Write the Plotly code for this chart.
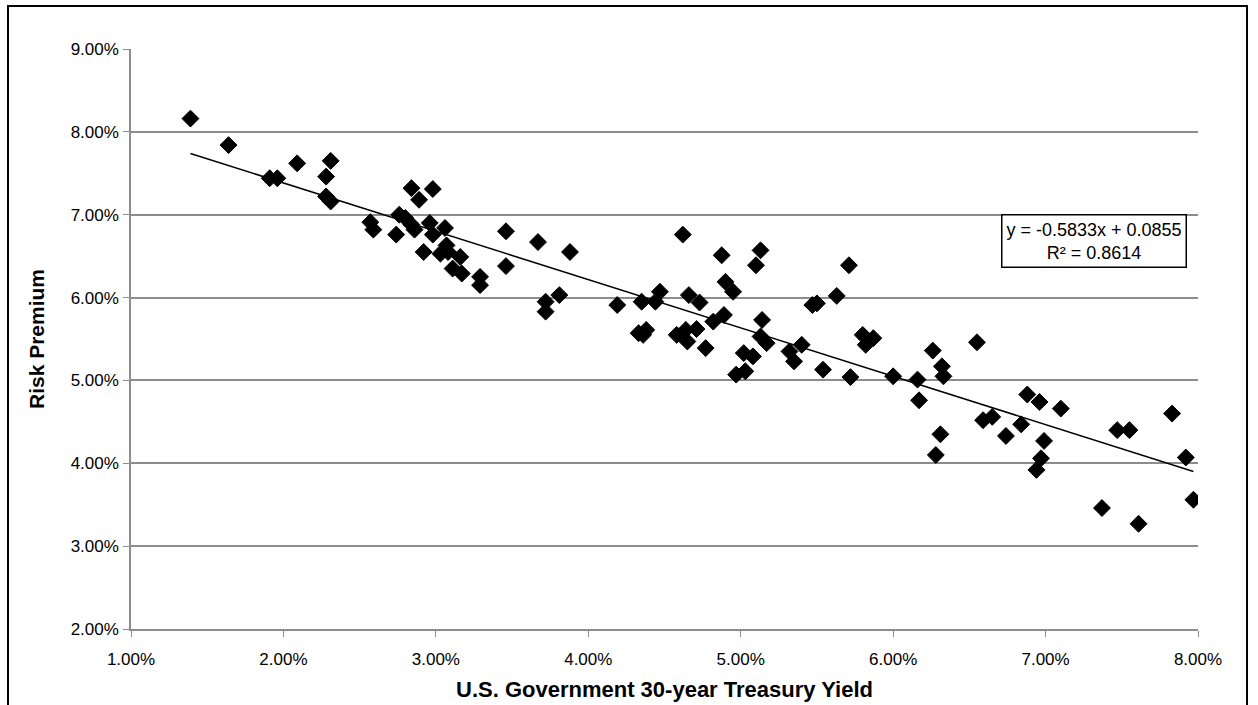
import plotly.graph_objects as go

# Data (percent values)
treasury_yield = [1.39, 1.64, 1.91, 1.96, 2.09, 2.31, 2.28, 2.28, 2.31, 2.57, 2.59, 2.74,
                  2.84, 2.98, 2.89, 2.76, 2.80, 2.84, 2.86, 2.96, 3.06, 2.98, 2.92, 3.03,
                  3.07, 3.08, 3.16, 3.11, 3.17, 3.29, 3.29, 3.46, 3.46, 3.67, 3.88, 3.72,
                  3.81, 3.72, 4.19, 4.35, 4.47, 4.44, 4.36, 4.38, 4.33, 4.58, 4.62, 4.875,
                  5.13, 5.10, 5.71, 4.66, 4.73, 4.90, 4.95, 5.47, 5.50, 5.63, 4.64, 4.71,
                  4.65, 4.77, 4.82, 4.89, 5.14, 5.13, 5.17, 5.02, 5.08, 4.97, 5.03, 5.32,
                  5.40, 5.35, 5.54, 5.72, 5.80, 5.82, 5.87, 6.00, 6.16, 6.17, 6.26, 6.32,
                  6.33, 6.55, 6.31, 6.28, 6.59, 6.65, 6.74, 6.84, 6.88, 6.96, 6.99, 6.97,
                  6.94, 7.10, 7.47, 7.55, 7.83, 7.92, 7.97, 7.37, 7.61]
risk_premium = [8.16, 7.84, 7.44, 7.44, 7.62, 7.65, 7.46, 7.22, 7.16, 6.91, 6.82, 6.76,
                7.32, 7.31, 7.18, 7.00, 6.96, 6.88, 6.82, 6.90, 6.84, 6.76, 6.55, 6.53,
                6.63, 6.55, 6.49, 6.35, 6.29, 6.25, 6.15, 6.80, 6.38, 6.67, 6.55, 5.95,
                6.03, 5.83, 5.91, 5.95, 6.07, 5.95, 5.55, 5.61, 5.57, 5.55, 6.76, 6.51,
                6.57, 6.39, 6.39, 6.03, 5.94, 6.19, 6.07, 5.91, 5.93, 6.02, 5.61, 5.62,
                5.47, 5.39, 5.71, 5.79, 5.73, 5.53, 5.45, 5.33, 5.29, 5.07, 5.11, 5.35,
                5.43, 5.23, 5.13, 5.04, 5.55, 5.43, 5.51, 5.05, 5.01, 4.76, 5.36, 5.17,
                5.05, 5.46, 4.35, 4.10, 4.52, 4.56, 4.33, 4.47, 4.83, 4.74, 4.27, 4.06,
                3.92, 4.66, 4.40, 4.40, 4.60, 4.07, 3.56, 3.46, 3.27]

slope = -0.5833
intercept = 0.0855
r_squared = 0.8614

x_dec = [v / 100 for v in treasury_yield]
y_dec = [v / 100 for v in risk_premium]
x_line = [min(x_dec), max(x_dec)]
y_line = [slope * v + intercept for v in x_line]

FONT = "Liberation Sans, Arial, sans-serif"
GRID = "#8c8c8c"
W, H = 1258, 705
L, R, T, B = 131, 60, 49, 76
PW, PH = W - L - R, H - T - B

fig = go.Figure()
fig.add_trace(go.Scatter(x=x_dec, y=y_dec, mode="markers",
                         marker=dict(symbol="diamond", size=13, color="black",
                                     line=dict(width=1, color="black")),
                         showlegend=False, hoverinfo="x+y"))
fig.add_trace(go.Scatter(x=x_line, y=y_line, mode="lines",
                         line=dict(color="black", width=1.5),
                         showlegend=False, hoverinfo="skip"))

fig.update_layout(
    width=W, height=H,
    margin=dict(l=L, r=R, t=T, b=B),
    paper_bgcolor="white", plot_bgcolor="white",
    font=dict(family=FONT, color="black"),
    xaxis=dict(range=[0.01, 0.08], tickvals=[0.01, 0.02, 0.03, 0.04, 0.05, 0.06, 0.07, 0.08],
               tickformat=".2%", showgrid=False, zeroline=False, automargin=False,
               showline=True, linecolor=GRID, linewidth=1.5,
               ticks="outside", ticklen=6, tickcolor=GRID, tickwidth=1,
               ticklabelstandoff=8,
               tickfont=dict(size=17, family=FONT, color="black"),
               title=dict(text="<b>U.S. Government 30-year Treasury Yield</b>",
                          font=dict(size=22, family=FONT, color="black"), standoff=13)),
    yaxis=dict(range=[0.02, 0.09], tickvals=[0.02, 0.03, 0.04, 0.05, 0.06, 0.07, 0.08, 0.09],
               tickformat=".2%", showgrid=True, gridcolor=GRID, gridwidth=1.5, zeroline=False,
               automargin=False,
               showline=True, linecolor=GRID, linewidth=1.5,
               ticks="outside", ticklen=6, tickcolor=GRID, tickwidth=1,
               ticklabelstandoff=1,
               tickfont=dict(size=17, family=FONT, color="black"),
               title=dict(text="<b>Risk Premium</b>",
                          font=dict(size=21, family=FONT, color="black"), standoff=20)),
    shapes=[dict(type="rect", xref="paper", yref="paper",
                 x0=(8 - L) / PW, x1=(1247 - L) / PW,
                 y0=-0.3, y1=(H - B - 6) / PH,
                 line=dict(color="black", width=2), layer="below")],
    annotations=[dict(xref="paper", yref="paper",
                      x=(1187 - L) / PW, y=(H - B - 214) / PH,
                      xanchor="right", yanchor="top",
                      text=f"y = {slope:.4f}x + {intercept:.4f}<br>R² = {r_squared:.4f}",
                      showarrow=False, align="center",
                      font=dict(size=18, family=FONT, color="black"),
                      bgcolor="white", bordercolor="black", borderwidth=1.5, borderpad=4)],
)

fig.write_html("out.html", config={"displayModeBar": False},
               post_script="document.body.style.margin='0px';")
